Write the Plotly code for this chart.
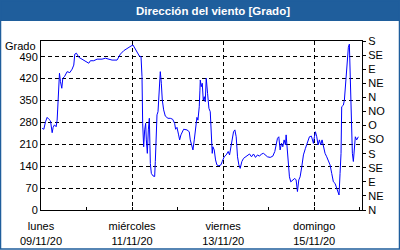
import pandas as pd
import plotly.graph_objects as go

# Hours since lunes 09/11/20 00:00
hours = [0.61, 1.49, 2.37, 3.25, 4.12, 5.0, 5.88, 6.4, 7.1, 7.98, 8.51, 9.04, 9.74, 10.26,
         10.96, 11.49, 12.37, 13.77, 15.18, 16.4, 17.28, 17.81, 18.68, 19.91, 21.67, 23.42,
         25.18, 26.05, 27.81, 29.56, 32.19, 33.95, 35.7, 37.46, 40.09, 41.84, 43.6, 45.35,
         46.23, 47.46, 48.51, 49.38, 50.61, 51.84, 52.72, 53.24, 53.59, 54.12, 54.65, 55.17,
         55.52, 56.05, 56.58, 57.1, 57.63, 58.16, 59.03, 59.91, 60.26, 60.79, 61.14, 61.67,
         62.01, 62.54, 62.89, 63.42, 63.94, 64.65, 65.52, 66.93, 68.15, 69.38, 70.43, 70.96,
         71.67, 72.54, 73.07, 73.77, 75.17, 76.93, 78.15, 78.68, 79.56, 80.09, 80.79, 81.49,
         82.19, 82.72, 83.42, 83.77,
         83.95, 84.47, 85.0, 85.52, 86.05, 86.58, 87.1, 87.8, 88.51, 89.21, 89.73, 90.26,
         90.61, 91.31, 92.01, 92.72, 93.77, 94.82, 95.52, 96.58, 97.63, 98.68, 99.38, 100.09,
         100.79, 101.49, 102.19, 102.89, 103.59, 104.3, 105.0, 105.88, 106.75, 107.8, 108.86,
         109.91, 110.96, 112.01, 113.07, 114.12, 115.17, 116.22, 117.28, 118.33, 119.38,
         120.79, 122.19, 123.24, 123.94, 124.65, 125.35, 126.05, 126.75, 127.45, 128.15,
         128.86, 129.21, 129.73, 130.26, 130.96, 131.66, 132.72, 133.77, 134.47, 135.17,
         135.88, 136.58, 137.45, 138.33, 139.38, 140.43, 141.49, 142.54, 143.59, 144.12,
         144.64, 145.35, 146.05, 146.75, 147.45, 148.15, 148.86, 149.73, 150.61, 151.48,
         152.37, 153.24, 154.12, 155.0, 155.87, 156.57, 157.1, 157.63, 158.15, 158.5, 159.38,
         159.91, 160.43, 160.96, 161.49, 162.01, 162.54, 163.07, 163.59, 164.12, 164.64,
         165.17, 165.69, 166.4, 167.27]

direction = [261, 258, 282, 296, 290, 285, 247, 264, 272, 266, 287, 346, 437, 410,
             389, 421, 426, 442, 439, 450, 463, 498, 501, 488, 482, 475,
             469, 477, 477, 482, 482, 485, 482, 479, 479, 498, 509, 517,
             520, 524, 527, 517, 506, 492, 490, 426, 277, 202, 256, 277,
             224, 181, 256, 293, 149, 117, 109, 107, 155, 256, 304, 314,
             351, 415, 442, 405, 351, 320, 300, 293, 293, 290, 277, 258,
             264, 240, 224, 240, 258, 256, 250, 224, 197, 192, 224, 256,
             296, 287, 330, 383,
             415, 394, 405, 351, 362, 346, 421, 373, 325, 314, 245, 181,
             202, 192, 160, 144, 141, 144, 155, 170, 176, 187, 176, 202,
             224, 250, 256, 234, 170, 144, 133, 155, 165, 170, 176,
             179, 170, 179, 168, 176, 172, 179, 181, 176, 170,
             168, 172, 187, 213, 229, 234, 192, 213, 202, 224,
             208, 240, 192, 138, 106, 90, 96, 101, 96, 59,
             96, 106, 138, 176, 197, 218, 234, 236, 213, 234,
             250, 234, 208, 224, 208, 224, 202, 181, 170, 155,
             144, 117, 90, 85, 69, 53, 48, 117, 181, 330, 335,
             351, 389, 437, 490, 520, 530, 405, 277, 181, 155,
             213, 234, 224, 234]

left_ticks = [0, 70, 140, 210, 280, 350, 420, 490]
compass_vals = [0, 45, 90, 135, 180, 225, 270, 315, 360, 405, 450, 495, 540]
compass_labels = ["N", "NE", "E", "SE", "S", "SO", "O", "NO", "N", "NE", "E", "SE", "S"]
major_days = ["2020-11-09", "2020-11-11", "2020-11-13", "2020-11-15"]
major_labels = ["lunes<br>09/11/20", "miércoles<br>11/11/20", "viernes<br>13/11/20", "domingo<br>15/11/20"]
minor_days = ["2020-11-10", "2020-11-12", "2020-11-14", "2020-11-16"]

base = pd.Timestamp("2020-11-09")
x = base + pd.to_timedelta(hours, unit="h")

W, H = 400, 250
L, R, T, B = 41, 38, 41, 40
pw, ph = W - L - R, H - T - B

def px(p):
    return (p - L) / pw

def py(p):
    return (H - B - p) / ph

FONT = "Liberation Sans"
BLUE = "#1f5e9c"

fig = go.Figure()
fig.add_trace(go.Scatter(x=x, y=direction, mode="lines",
                         line=dict(color="#0000ff", width=1), showlegend=False))
fig.add_trace(go.Scatter(x=[x[0]], y=[0], yaxis="y2", mode="markers",
                         marker=dict(opacity=0), showlegend=False, hoverinfo="skip"))

fig.update_layout(
    width=W, height=H,
    margin=dict(l=L, r=R, t=T, b=B, autoexpand=False),
    paper_bgcolor="white", plot_bgcolor="white",
    font=dict(family=FONT, size=11, color="black"),
    xaxis=dict(
        type="date", automargin=False,
        range=[base, base + pd.Timedelta(hours=169.2)],
        tickmode="array",
        tickvals=major_days, ticktext=major_labels,
        ticks="inside", ticklen=3, tickcolor="black",
        ticklabelstandoff=6,
        showgrid=True, gridcolor="black", griddash="4px,3px", gridwidth=1,
        showline=True, linecolor="black", linewidth=1, mirror=True,
        zeroline=False,
        minor=dict(tickvals=minor_days, ticks="inside", ticklen=3, tickcolor="black", showgrid=False),
        tickfont=dict(family=FONT, size=11),
    ),
    yaxis=dict(
        range=[0, 540], automargin=False,
        tickmode="array", tickvals=left_ticks,
        showgrid=True, gridcolor="black", griddash="4px,3px", gridwidth=1,
        showline=True, linecolor="black", linewidth=1, mirror=True,
        zeroline=False, ticks="",
        tickfont=dict(family=FONT, size=11),
    ),
    yaxis2=dict(
        range=[0, 540], overlaying="y", side="right", automargin=False,
        tickmode="array", tickvals=compass_vals, ticktext=compass_labels,
        ticks="outside", ticklen=3, tickcolor="black",
        showgrid=False, zeroline=False, showline=True, linecolor="black",
        tickfont=dict(family=FONT, size=11),
    ),
    shapes=[
        dict(type="rect", xref="paper", yref="paper",
             x0=px(0), x1=px(W), y0=py(21), y1=py(0),
             fillcolor=BLUE, line=dict(width=0), layer="above"),
        dict(type="rect", xref="paper", yref="paper",
             x0=px(0.5), x1=px(W - 0.5), y0=py(H - 1), y1=py(0.5),
             line=dict(color=BLUE, width=1.5), fillcolor="rgba(0,0,0,0)"),
    ],
    annotations=[
        dict(text="<b>Dirección del viento [Grado]</b>", xref="paper", yref="paper",
             x=px(213), y=py(10.5), xanchor="center", yanchor="middle", showarrow=False,
             font=dict(family=FONT, size=11.5, color="white")),
        dict(text="Grado", xref="paper", yref="paper",
             x=px(38), y=py(45.5), xanchor="right", yanchor="middle", showarrow=False,
             font=dict(family=FONT, size=11, color="black")),
    ],
)

fig.write_html("out.html")
